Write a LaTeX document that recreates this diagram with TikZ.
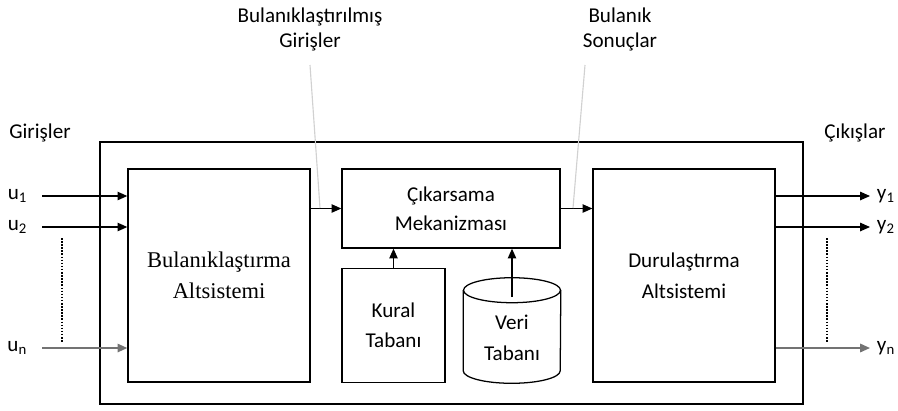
\documentclass[tikz,border=0pt]{standalone}
\usepackage{fontspec}
\setmainfont{Carlito}
\newfontfamily\timesfont{Liberation Serif}
\usepackage{tikz}
\usetikzlibrary{arrows.meta, positioning, calc}

\begin{document}
\begin{tikzpicture}[x=0.025cm, y=-0.025cm,
  font=\fontsize{15}{18}\selectfont,
  block/.style={draw, line width=0.9pt, inner sep=0pt},
  arr/.style={line width=0.9pt, -{Triangle[length=7pt, width=6pt]}},
  faint/.style={black!55, line width=1.2pt, -{Triangle[length=7pt, width=6pt]}},
  dots/.style={line width=1.6pt, dash pattern=on 1.1pt off 1.1pt},
  callout/.style={black!18, line width=0.8pt}]
  \useasboundingbox (0,0) rectangle (898,410);

  % blocks
  \node (frame) [block, minimum width=17.575cm, minimum height=6.55cm] at (451.5,273) {};
  \node (fuzz) [block, minimum width=4.55cm, minimum height=5.325cm, align=center,
    font=\timesfont\fontsize{16}{22}\selectfont] at (219,275.5) {Bulanıklaştırma\\Altsistemi};
  \node (infer) [block, minimum width=5.45cm, minimum height=1.975cm, align=center,
    font=\fontsize{15}{20.5}\selectfont] at (451,208.5) {Çıkarsama\\Mekanizması};
  \node (defuzz) [block, minimum width=4.55cm, minimum height=5.325cm, align=center,
    font=\fontsize{15}{22}\selectfont] at (684,275.5) {Durulaştırma\\Altsistemi};
  \node (rules) [block, minimum width=2.575cm, minimum height=2.85cm, align=center,
    font=\fontsize{15}{21.3}\selectfont] at (393.5,325.5) {Kural\\Tabanı};

  % data base drum
  \node (data) [minimum width=2.425cm, minimum height=2.625cm, inner sep=0pt] at (512,330.5) {};
  \draw[line width=0.9pt] ($(data.north west)+(0,12.5)$) -- ($(data.south west)+(0,-12.5)$)
    arc[start angle=180, end angle=0, x radius=48.5, y radius=12.5]
    -- ($(data.north east)+(0,12.5)$);
  \draw[line width=0.9pt] ($(data.north)+(0,12.5)$) ellipse [x radius=48.5, y radius=12.5];
  \node (datatext) [align=center, font=\fontsize{15}{22}\selectfont]
    at ($(data.center)+(0,7)$) {Veri\\Tabanı};

  % inputs
  \node (ins) at (40,133) {Girişler};
  \coordinate (in1) at (42,196);
  \coordinate (in2) at (42,227);
  \coordinate (inn) at (42,348);
  \node (u1) [left=0.25cm of in1] {u\textsubscript{1}};
  \node (u2) [left=0.25cm of in2] {u\textsubscript{2}};
  \node (un) [left=0.25cm of inn] {u\textsubscript{n}};
  \draw[arr] (in1) -- (fuzz.west |- in1);
  \draw[arr] (in2) -- (fuzz.west |- in2);
  \draw[faint] (inn) -- (fuzz.west |- inn);
  \coordinate (ud1) at (62,238);
  \coordinate (ud2) at (62,342);
  \draw[dots] (ud1) -- (ud2);

  % outputs
  \node (outs) at (855,133) {Çıkışlar};
  \coordinate (out1) at (870,196);
  \coordinate (out2) at (870,227);
  \coordinate (outn) at (870,348);
  \node (y1) [right=0.05cm of out1] {y\textsubscript{1}};
  \node (y2) [right=0.05cm of out2] {y\textsubscript{2}};
  \node (yn) [right=0.05cm of outn] {y\textsubscript{n}};
  \draw[arr] (defuzz.east |- out1) -- (out1);
  \draw[arr] (defuzz.east |- out2) -- (out2);
  \draw[faint] (defuzz.east |- outn) -- (outn);
  \coordinate (yd1) at (827,238);
  \coordinate (yd2) at (827,342);
  \draw[dots] (yd1) -- (yd2);

  % inner connections
  \draw[arr] (fuzz.east |- infer.west) -- (infer.west);
  \draw[arr] (infer.east) -- (defuzz.west |- infer.east);
  \draw[arr] (rules.north) -- (rules.north |- infer.south);
  \coordinate (dtop) at (512,297);
  \draw[arr] (dtop) -- (dtop |- infer.south);

  % callouts
  \node (fin) [align=center, font=\fontsize{15}{17.7}\selectfont] at (310,29.5) {Bulanıklaştırılmış\\Girişler};
  \node (fout) [align=center, font=\fontsize{15}{17.7}\selectfont] at (620,29.5) {Bulanık\\Sonuçlar};
  \coordinate (finp) at (320,208);
  \coordinate (foutp) at (573,208);
  \draw[callout] (310,65) -- (finp);
  \draw[callout] (585,65) -- (foutp);
\end{tikzpicture}
\end{document}
